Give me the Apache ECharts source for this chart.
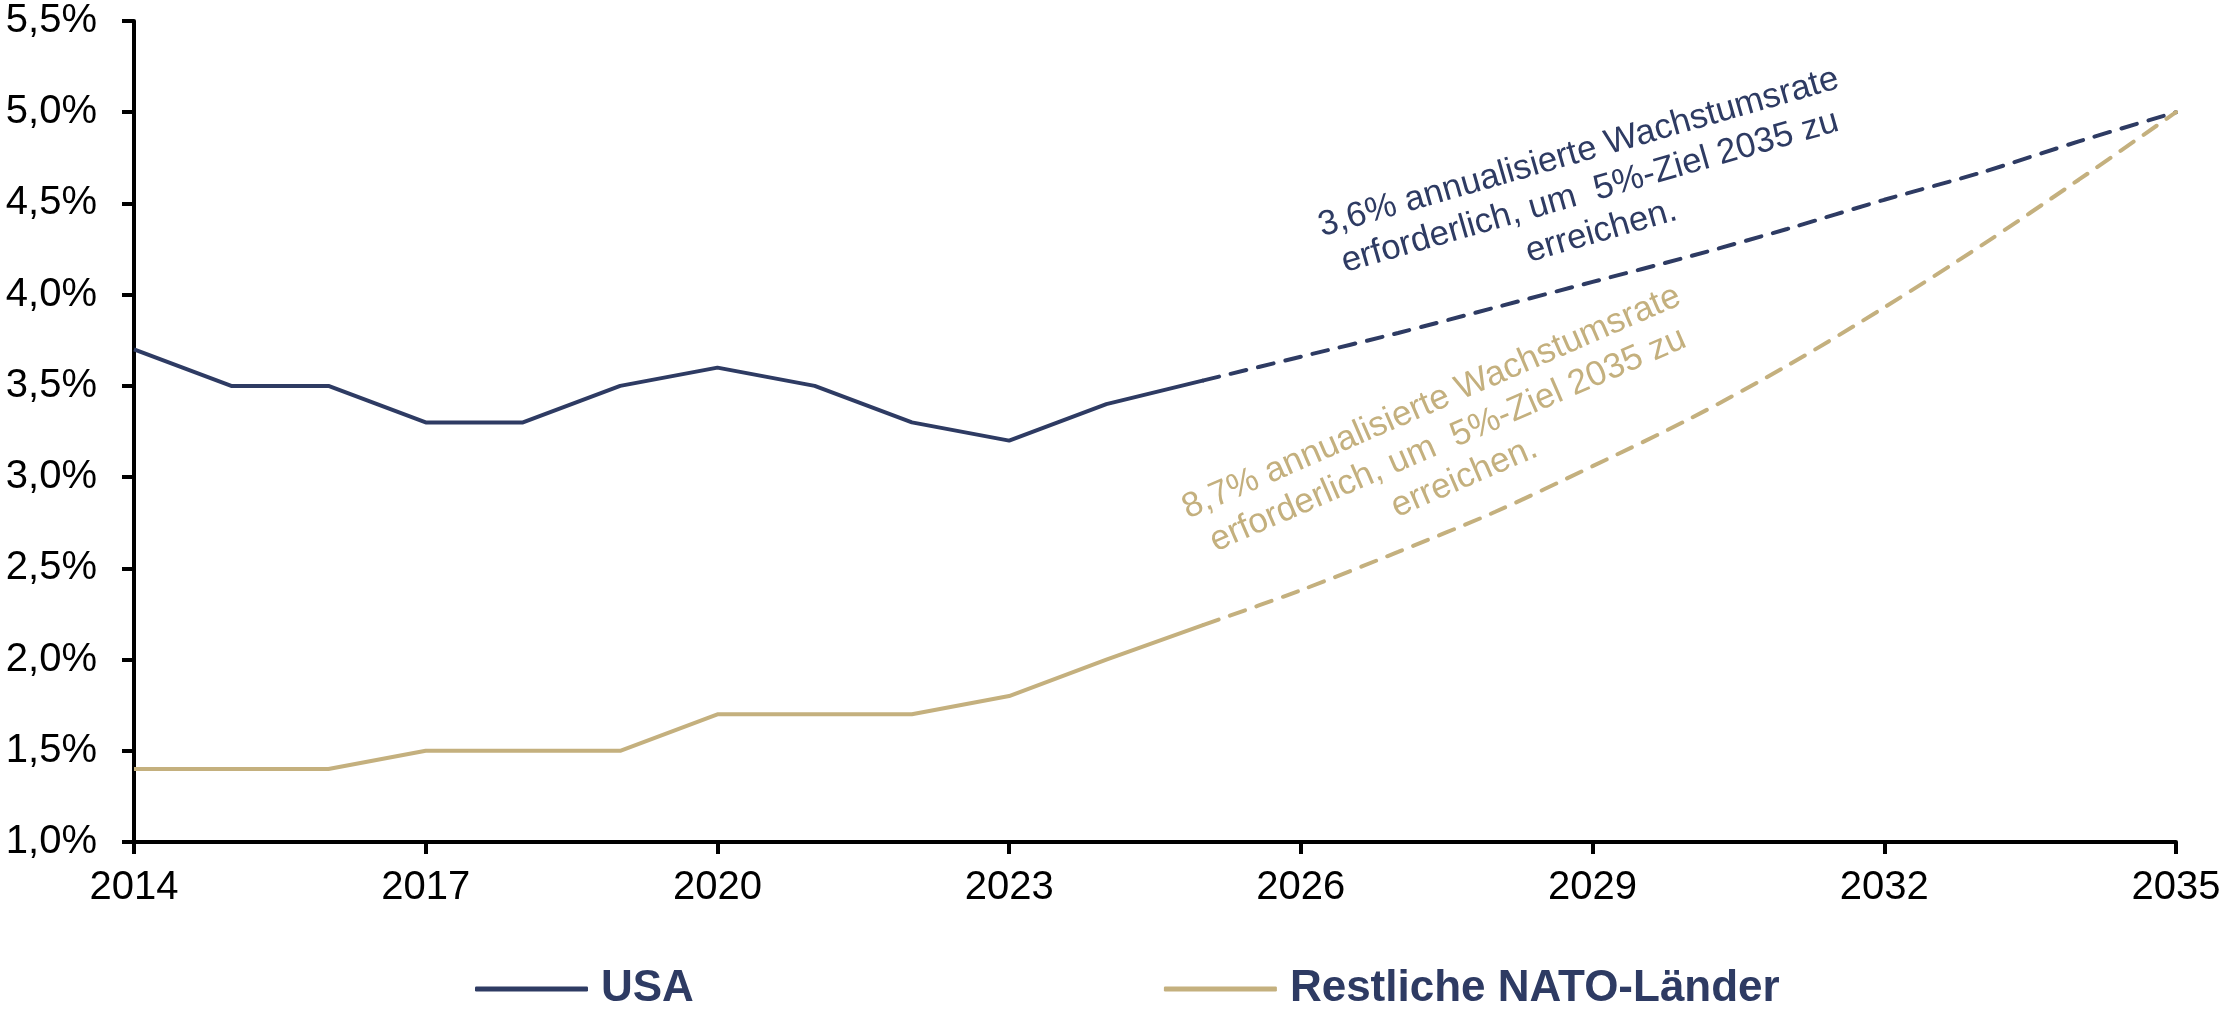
<!DOCTYPE html>
<html>
<head>
<meta charset="utf-8">
<script src="https://cdn.jsdelivr.net/npm/echarts@6/dist/echarts.min.js"></script>
<style>
  html, body { margin: 0; padding: 0; background: #fff; }
  #chart { width: 2226px; height: 1020px; }
</style>
</head>
<body>
<div id="chart"></div>
<script>
// Jahre 2014..2035
const years = [];
for (let y = 2014; y <= 2035; y++) years.push(String(y));

// Ist-Werte (Anteil am BIP, %) bis 2025
const usaActual  = [3.7, 3.5, 3.5, 3.3, 3.3, 3.5, 3.6, 3.5, 3.3, 3.2, 3.4, 3.53];
const natoActual = [1.4, 1.4, 1.4, 1.5, 1.5, 1.5, 1.7, 1.7, 1.7, 1.8, 2.0, 2.19];

// Projektion 2025..2035
const usaPath  = [3.53, 3.66, 3.79, 3.93, 4.07, 4.21, 4.36, 4.52, 4.67, 4.84, 5.0];
const natoPath = [2.19, 2.38, 2.59, 2.81, 3.06, 3.32, 3.61, 3.93, 4.27, 4.63, 5.0];

const yTicks = { min: 1.0, max: 5.5, step: 0.5 };

const navy = '#2E3B63';
const gold = '#C4B07E';
const font = 'Liberation Sans, Arial, sans-serif';

// Reihen auf volle Jahresachse auffüllen
const pad = (arr, start) => years.map((_, i) => (i >= start && i - start < arr.length) ? arr[i - start] : null);
const projStart = years.indexOf('2025');

let myChart = echarts.init(document.getElementById('chart'));
let option = {
    animation: false,
    textStyle: { fontFamily: font },
    grid: { left: 134, right: 50, top: 21, bottom: 178 },
    legend: {
        data: ['USA', 'Restliche NATO-Länder'],
        left: 470,
        top: 962,
        itemWidth: 113,
        itemHeight: 5,
        itemGap: 470,
        icon: 'roundRect',
        textStyle: { color: navy, fontSize: 44, fontWeight: 'bold', padding: [0, 0, 0, 8] }
    },
    xAxis: {
        type: 'category',
        data: years,
        boundaryGap: false,
        axisLine: { lineStyle: { color: '#000', width: 4 } },
        axisTick: { interval: 2, length: 12, lineStyle: { color: '#000', width: 4 } },
        axisLabel: { interval: 2, color: '#000', fontSize: 40, margin: 26 },
        splitLine: { show: false }
    },
    yAxis: {
        type: 'value',
        min: yTicks.min,
        max: yTicks.max,
        interval: yTicks.step,
        axisLine: { show: true, lineStyle: { color: '#000', width: 4 } },
        axisTick: { show: true, length: 12, lineStyle: { color: '#000', width: 4 } },
        axisLabel: {
            color: '#000', fontSize: 40, margin: 37,
            formatter: v => v.toFixed(1).replace('.', ',') + '%'
        },
        splitLine: { show: false }
    },
    series: [
        {
            name: 'USA', type: 'line', data: pad(usaActual, 0),
            showSymbol: false, color: navy,
            lineStyle: { color: navy, width: 4 }
        },
        {
            name: 'Restliche NATO-Länder', type: 'line', data: pad(natoActual, 0),
            showSymbol: false, color: gold,
            lineStyle: { color: gold, width: 4 }
        },
        {
            name: 'USA Ziel', type: 'line', data: pad(usaPath, projStart),
            showSymbol: false, smooth: 0.3,
            lineStyle: { color: navy, width: 4, type: [16, 12], cap: 'round' }
        },
        {
            name: 'NATO Ziel', type: 'line', data: pad(natoPath, projStart),
            showSymbol: false, smooth: 0.3,
            lineStyle: { color: gold, width: 4, type: [16, 12], cap: 'round' }
        }
    ],
    graphic: [
        {
            type: 'text', x: 1590, y: 192, rotation: 16 * Math.PI / 180,
            style: {
                text: '3,6% annualisierte Wachstumsrate\nerforderlich, um  5%-Ziel 2035 zu\nerreichen.',
                fill: navy, fontSize: 35, lineHeight: 41, align: 'center', verticalAlign: 'middle',
                fontFamily: font
            }
        },
        {
            type: 'text', x: 1448, y: 440, rotation: 23.5 * Math.PI / 180,
            style: {
                text: '8,7% annualisierte Wachstumsrate\nerforderlich, um  5%-Ziel 2035 zu\nerreichen.',
                fill: gold, fontSize: 35, lineHeight: 41, align: 'center', verticalAlign: 'middle',
                fontFamily: font
            }
        }
    ]
};
// Diagramm zeichnen
myChart.setOption(option);
</script>
</body>
</html>
